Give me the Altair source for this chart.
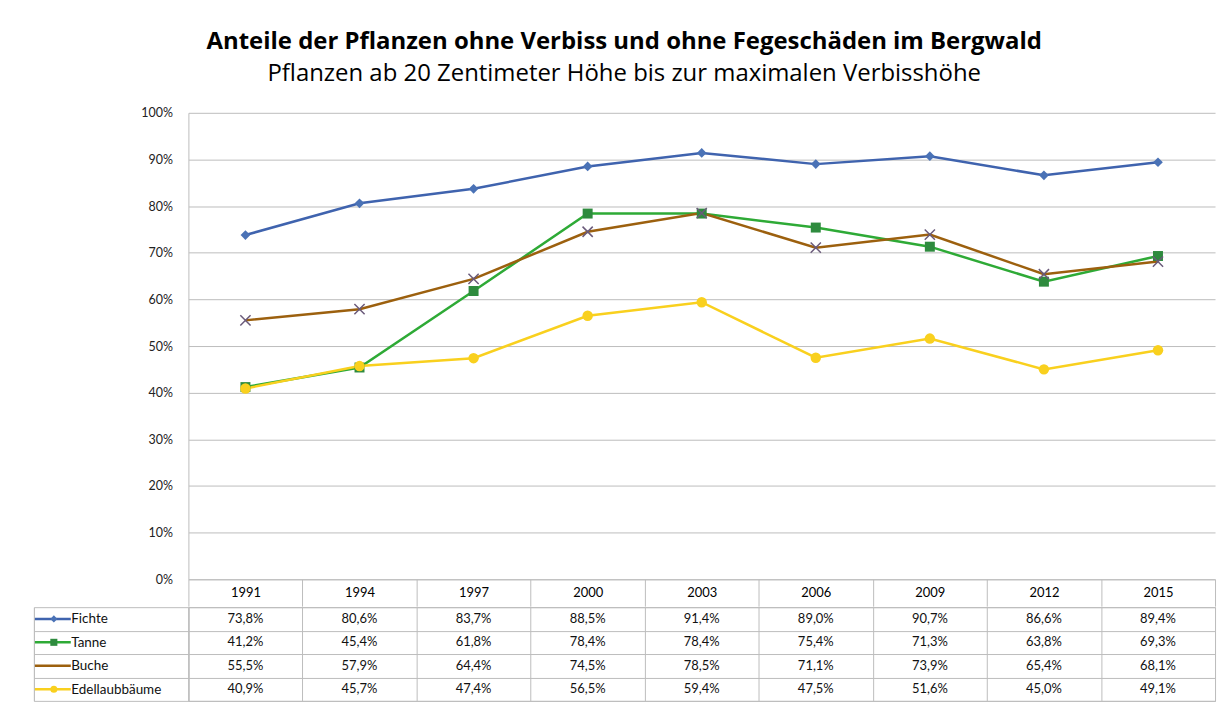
import altair as alt
import pandas as pd

years = ["1991", "1994", "1997", "2000", "2003", "2006", "2009", "2012", "2015"]
series = ["Fichte", "Tanne", "Buche", "Edellaubbäume"]
fichte = [73.8, 80.6, 83.7, 88.5, 91.4, 89.0, 90.7, 86.6, 89.4]
tanne = [41.2, 45.4, 61.8, 78.4, 78.4, 75.4, 71.3, 63.8, 69.3]
buche = [55.5, 57.9, 64.4, 74.5, 78.5, 71.1, 73.9, 65.4, 68.1]
edel = [40.9, 45.7, 47.4, 56.5, 59.4, 47.5, 51.6, 45.0, 49.1]
values = {"Fichte": fichte, "Tanne": tanne, "Buche": buche, "Edellaubbäume": edel}

line_colors = ["#3F63AE", "#2EAA36", "#9C600E", "#F9D01E"]
marker_fill = ["#4A72B6", "#2E8B3E", "#6A5A7A", "#F9D01E"]
marker_size = [95, 110, 60, 95]

FONT = "Lato"
TFONT = "Open Sans"
GRID = "#BDBDBD"

rows = []
for s in series:
    for y, v in zip(years, values[s]):
        rows.append({"series": s, "year": y, "value": v / 100.0,
                     "label": f"{v:.1f}".replace(".", ",") + "%"})
df = pd.DataFrame(rows)
leg = pd.DataFrame({"series": series})

xscale = alt.Scale(type="band", domain=years, paddingInner=0, paddingOuter=0)
yscale = alt.Scale(domain=[0, 1], nice=False)
color = alt.Color("series:N", scale=alt.Scale(domain=series, range=line_colors), legend=None)
fill = alt.Fill("series:N", scale=alt.Scale(domain=series, range=marker_fill), legend=None)
shape = alt.Shape("series:N", scale=alt.Scale(domain=series,
                  range=["diamond", "square", "M-1,-1L1,1M-1,1L1,-1", "circle"]), legend=None)
size = alt.Size("series:N", scale=alt.Scale(domain=series, range=marker_size), legend=None)

base = alt.Chart(df)
xenc = alt.X("year:O", scale=xscale, sort=years,
             axis=alt.Axis(title=None, labelAngle=0, domain=True, domainColor=GRID,
                           ticks=True, tickBand="extent", tickSize=27, tickColor=GRID,
                           labelPadding=-14, labelBaseline="middle", labelFont=FONT,
                           labelFontSize=13, labelColor="#000", grid=False,
                           minExtent=27, maxExtent=27))
yenc = alt.Y("value:Q", scale=yscale,
             axis=alt.Axis(title=None, format=".0%", values=[i / 10 for i in range(11)],
                           grid=True, gridColor=GRID, ticks=False, domain=True,
                           domainColor=GRID, labelPadding=16, labelFont=FONT,
                           labelFontSize=12.5, labelColor="#222"))

lines = base.mark_line(strokeWidth=2.5).encode(x=xenc, y=yenc, color=color, detail="series:N")
pts = base.transform_filter(alt.datum.series != "Buche").mark_point(
    filled=True, opacity=1, strokeWidth=0).encode(
    x=xenc, y=yenc, fill=fill, shape=shape, size=size)
xs = base.transform_filter(alt.datum.series == "Buche").mark_point(
    filled=False, opacity=1, stroke="#6A5A7A", strokeWidth=1.5,
    shape="M-1,-1L1,1M-1,1L1,-1").encode(x=xenc, y=yenc, size=size)

plot = alt.layer(lines, pts, xs).properties(width=1030, height=468)

# data table below
yrow = alt.Scale(type="band", domain=series, paddingInner=0, paddingOuter=0)
tbase = alt.Chart(df)
ttext = tbase.mark_text(font=FONT, fontSize=13, color="#111").encode(
    x=alt.X("year:O", scale=xscale, sort=years,
            axis=alt.Axis(title=None, grid=True, gridColor=GRID, tickBand="extent",
                          labels=False, ticks=False, domain=False)),
    y=alt.Y("series:N", scale=yrow, sort=series,
            axis=alt.Axis(title=None, grid=True, gridColor=GRID, tickBand="extent",
                          ticks=True, tickSize=155, tickColor=GRID, domain=True,
                          domainColor=GRID, labelAlign="left", labelPadding=-37,
                          labelFont=FONT, labelFontSize=13.5, labelColor="#111")),
    text="label:N")

lbase = alt.Chart(leg)
ly = alt.Y("series:N", scale=yrow, sort=series,
           axis=alt.Axis(orient="left", offset=155, title=None, labels=False,
                         ticks=False, grid=False, domain=True, domainColor=GRID))
lkey = lbase.mark_rule(strokeWidth=2.5).encode(
    x=alt.value(-154), x2=alt.value(-118), y=ly, color=color)
lpts = lbase.transform_filter(alt.datum.series != "Buche").mark_point(
    filled=True, opacity=1, strokeWidth=0).encode(
    x=alt.value(-135), y=ly, fill=fill, shape=shape, size=alt.value(50))

table = alt.layer(ttext, lkey, lpts).resolve_axis(y="independent").properties(
    width=1030, height=94, view=alt.ViewConfig(stroke=GRID))

chart = alt.vconcat(plot, table, spacing=-8).properties(
    title=alt.TitleParams(
        text="Anteile der Pflanzen ohne Verbiss und ohne Fegeschäden im Bergwald",
        subtitle="Pflanzen ab 20 Zentimeter Höhe bis zur maximalen Verbisshöhe",
        font=TFONT, fontSize=24, fontWeight="bold", color="#000",
        subtitleFont=TFONT, subtitleFontSize=24, subtitleColor="#000",
        subtitlePadding=8, anchor="middle", offset=21),
    padding={"left": 25, "top": 21, "right": 5, "bottom": 5},
    background="white",
).configure_view(stroke=None)

chart.save("out.html", embed_options={"renderer": "svg", "actions": False})
